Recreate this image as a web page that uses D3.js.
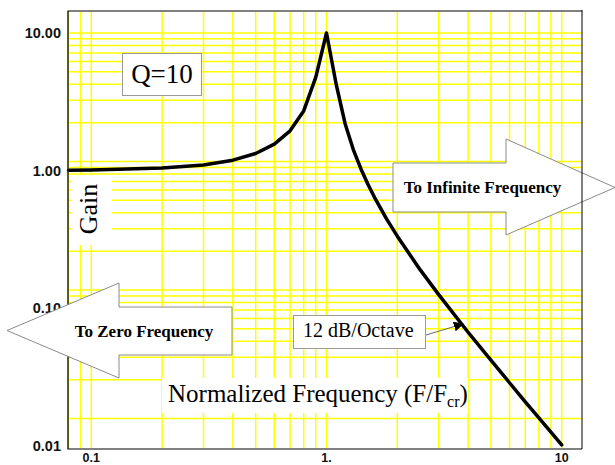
<!DOCTYPE html>
<html>
<head>
<meta charset="utf-8">
<script src="https://cdn.jsdelivr.net/npm/d3@7"></script>
<style>
  html, body { margin: 0; padding: 0; background: #fff; }
  svg { display: block; }
</style>
</head>
<body>
<svg id="chart" width="615" height="465"></svg>
<script>
// ---- data ----
const freq = [0.08, 0.1, 0.2, 0.3, 0.4, 0.5, 0.6, 0.7, 0.8, 0.9, 1.0, 1.1, 1.2, 1.3, 1.4, 1.5, 1.6, 1.8, 2.0, 2.5, 3, 4, 5, 6, 7, 8, 9, 10];
const gain = [1.006, 1.010, 1.041, 1.098, 1.189, 1.330, 1.556, 1.943, 2.71, 4.76, 10.0, 4.22, 2.19, 1.42, 1.031, 0.794, 0.638, 0.445, 0.333, 0.190, 0.125, 0.0666, 0.0417, 0.0286, 0.0208, 0.0159, 0.0125, 0.0101];
const yTickValues = [10, 1, 0.1, 0.01];
const yTickLabels = ["10.00", "1.00", "0.10", "0.01"];
const xTickValues = [0.1, 1, 10];
const xTickLabels = ["0.1", "1.", "10"];
const gridX = [0.08, 0.09, 0.1, 0.2, 0.3, 0.4, 0.5, 0.6, 0.7, 0.8, 0.9, 1, 2, 3, 4, 5, 6, 7, 8, 9, 10];
const gridY = [0.01, 0.02, 0.03, 0.04, 0.05, 0.06, 0.07, 0.08, 0.09, 0.1, 0.2, 0.3, 0.4, 0.5, 0.6, 0.7, 0.8, 0.9, 1, 2, 3, 4, 5, 6, 7, 8, 9, 10];
const annotationFreq = 3.8;
const annotationGain = 0.074;

// ---- layout ----
const L = 68.5, R = 582, T = 11, B = 449;
const svg = d3.select("#chart");
svg.append("rect").attr("width", 615).attr("height", 465).attr("fill", "#fff");

const x = d3.scaleLog().domain([0.08, 12.2]).range([L, R]);
// gridlines are drawn on a slightly compressed decade (as in the original)
const yGrid = d3.scaleLog().domain([0.00579, 14.83]).range([B, T]);
// curve and tick labels
const y = d3.scaleLog().domain([0.00943, 14.45]).range([B, T]);

const serif = "'Liberation Serif', 'Times New Roman', serif";
const sans = "'Liberation Sans', Arial, sans-serif";

// grid
const g = svg.append("g");
g.selectAll("line.gx").data(gridX).join("line")
  .attr("x1", d => x(d)).attr("x2", d => x(d))
  .attr("y1", T).attr("y2", B)
  .attr("stroke", "#ffff00").attr("stroke-width", 1.5);
g.selectAll("line.gy").data(gridY).join("line")
  .attr("x1", L).attr("x2", R)
  .attr("y1", d => yGrid(d)).attr("y2", d => yGrid(d))
  .attr("stroke", "#ffff00").attr("stroke-width", 1.5);

// white label backgrounds
svg.append("rect").attr("x", 71).attr("y", 175).attr("width", 41).attr("height", 70).attr("fill", "#fff");
svg.append("rect").attr("x", 162).attr("y", 378).attr("width", 306).attr("height", 35).attr("fill", "#fff");

// curve
const line = d3.line().x(d => x(d[0])).y(d => y(d[1]));
svg.append("path")
  .datum(freq.map((f, i) => [f, gain[i]]))
  .attr("d", line)
  .attr("fill", "none").attr("stroke", "#000").attr("stroke-width", 3.5)
  .attr("stroke-linejoin", "round").attr("stroke-linecap", "round");

// texts
svg.append("text").attr("transform", "translate(97,209) rotate(-90)")
  .attr("text-anchor", "middle").attr("font-family", serif).attr("font-size", 26)
  .text("Gain");

const nf = svg.append("text").attr("x", 168).attr("y", 402)
  .attr("font-family", serif).attr("font-size", 25);
nf.append("tspan").text("Normalized Frequency (F/F");
nf.append("tspan").attr("font-size", 16).attr("dy", 5).text("cr");
nf.append("tspan").attr("dy", -5).text(")");

// Q=10 box
svg.append("rect").attr("x", 122.5).attr("y", 53.5).attr("width", 79).attr("height", 42)
  .attr("fill", "#fff").attr("stroke", "#999").attr("stroke-width", 1);
svg.append("text").attr("x", 162).attr("y", 83).attr("text-anchor", "middle")
  .attr("font-family", serif).attr("font-size", 27).text("Q=10");

// 12 dB/Octave box + leader
const ax = x(annotationFreq), ay = y(annotationGain);
svg.append("defs").append("marker").attr("id", "ah")
  .attr("viewBox", "0 0 10 10").attr("refX", 9).attr("refY", 5)
  .attr("markerWidth", 10).attr("markerHeight", 10).attr("markerUnits", "userSpaceOnUse")
  .attr("orient", "auto")
  .append("path").attr("d", "M0,0 L10,5 L0,10 Z").attr("fill", "#000");
svg.append("line").attr("x1", 426).attr("y1", 335).attr("x2", ax).attr("y2", ay - 2)
  .attr("stroke", "#666").attr("stroke-width", 1).attr("marker-end", "url(#ah)");
svg.append("rect").attr("x", 293.5).attr("y", 315.5).attr("width", 132).attr("height", 33)
  .attr("fill", "#fff").attr("stroke", "#999").attr("stroke-width", 1);
svg.append("text").attr("x", 303).attr("y", 337)
  .attr("font-family", serif).attr("font-size", 20).text("12 dB/Octave");

// y tick labels
svg.selectAll("text.yt").data(yTickValues).join("text")
  .attr("x", 61).attr("y", d => y(d)).attr("dy", "0.36em")
  .attr("text-anchor", "end").attr("font-family", sans).attr("font-weight", "bold")
  .attr("font-size", 14.5).attr("fill", "#111")
  .text((d, i) => yTickLabels[i]);

// x tick labels
svg.selectAll("text.xt").data(xTickValues).join("text")
  .attr("x", d => x(d)).attr("y", 461.5)
  .attr("text-anchor", "middle").attr("font-family", sans).attr("font-weight", "bold")
  .attr("font-size", 12.5).attr("fill", "#111")
  .text((d, i) => xTickLabels[i]);

// frame: top/bottom gray, left dark
svg.append("line").attr("x1", L - 1).attr("x2", R).attr("y1", T).attr("y2", T)
  .attr("stroke", "#808080").attr("stroke-width", 2);
svg.append("line").attr("x1", L - 1).attr("x2", R).attr("y1", B).attr("y2", B)
  .attr("stroke", "#808080").attr("stroke-width", 2);
svg.append("line").attr("x1", L - 0.5).attr("x2", L - 0.5).attr("y1", T).attr("y2", B)
  .attr("stroke", "#222").attr("stroke-width", 1.5);

// arrows
const arrowStyle = sel => sel.attr("fill", "#fff").attr("stroke", "#8a8a8a").attr("stroke-width", 1);
svg.append("path")
  .attr("d", "M7,330.5 L119,283 L119,307 L232,307 L232,355 L119,355 L119,378 Z")
  .call(arrowStyle);
svg.append("text").attr("x", 144).attr("y", 331).attr("dy", "0.33em").attr("text-anchor", "middle")
  .attr("font-family", serif).attr("font-weight", "bold").attr("font-size", 17)
  .text("To Zero Frequency");

svg.append("path")
  .attr("d", "M393,163 L506,163 L506,139 L615,187.5 L506,235 L506,212 L393,212 Z")
  .call(arrowStyle);
svg.append("text").attr("x", 482.5).attr("y", 187).attr("dy", "0.33em").attr("text-anchor", "middle")
  .attr("font-family", serif).attr("font-weight", "bold").attr("font-size", 17)
  .text("To Infinite Frequency");

// right border on top
svg.append("line").attr("x1", R).attr("x2", R).attr("y1", T - 1).attr("y2", B)
  .attr("stroke", "#000").attr("stroke-width", 1);
</script>
</body>
</html>
